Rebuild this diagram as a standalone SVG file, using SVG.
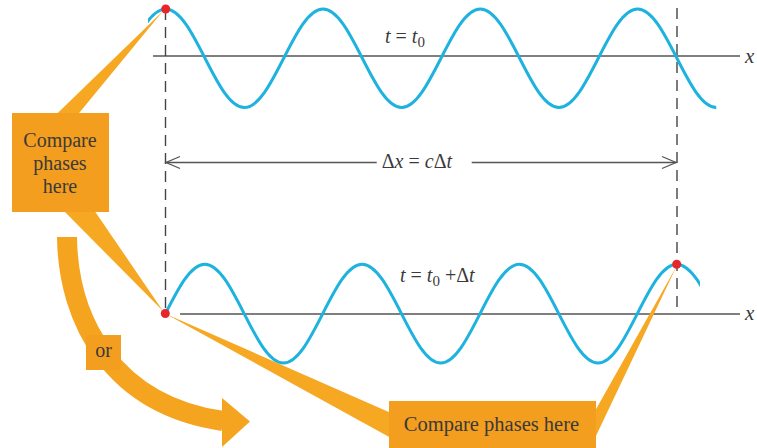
<svg xmlns="http://www.w3.org/2000/svg" width="757" height="448" viewBox="0 0 757 448">
<style>
.wave{fill:none;stroke:#1eb2de;stroke-width:3}
.axis{fill:none;stroke:#555;stroke-width:1.5}
.dash{fill:none;stroke:#444;stroke-width:1.4;stroke-dasharray:11 7}
.dim{fill:none;stroke:#555;stroke-width:1.3}
.dot{fill:#e8262a}
.box{fill:#f39e1f}
.ptr{fill:#f6a823}
.lbl{font-family:"Liberation Serif","Times New Roman",serif;fill:#3a3a3a}
.it{font-style:italic}
</style>
<defs>
<clipPath id="clipTop"><rect x="148" y="0" width="572" height="130"/></clipPath>
<clipPath id="clipBot"><rect x="165.5" y="240" width="534.5" height="140"/></clipPath>
</defs>
<rect width="757" height="448" fill="#fff"/>

<g id="axes">
<line class="axis" x1="153" y1="56" x2="740" y2="56"/>
<line class="axis" x1="180" y1="314" x2="740" y2="314"/>
<text class="lbl it" x="745" y="63" font-size="21">x</text>
<text class="lbl it" x="745" y="320" font-size="21">x</text>
</g>

<g id="guides">
<line class="dash" x1="165.5" y1="9" x2="165.5" y2="313"/>
<line class="dash" x1="677" y1="8" x2="677" y2="314"/>
</g>

<g id="wave-top">
<path class="wave" clip-path="url(#clipTop)" d="M87.05,107.5 C115.63,107.5 137.12,9 165.7,9 C194.28,9 215.77,107.5 244.35,107.5 C272.93,107.5 294.42,9 323,9 C351.58,9 373.07,107.5 401.65,107.5 C430.23,107.5 451.72,9 480.3,9 C508.88,9 530.37,107.5 558.95,107.5 C587.53,107.5 609.02,9 637.6,9 C666.18,9 687.67,107.5 716.25,107.5"/>
<text class="lbl" x="385" y="43" font-size="20"><tspan class="it">t</tspan> = <tspan class="it">t</tspan><tspan font-size="15" dy="4">0</tspan></text>
</g>

<g id="wave-bottom">
<path class="wave" clip-path="url(#clipBot)" d="M126.15,363 C154.73,363 176.22,264.3 204.8,264.3 C233.38,264.3 254.87,363 283.45,363 C312.03,363 333.52,264.3 362.1,264.3 C390.68,264.3 412.17,363 440.75,363 C469.33,363 490.82,264.3 519.4,264.3 C547.98,264.3 569.47,363 598.05,363 C626.63,363 648.12,264.3 676.7,264.3 C705.28,264.3 726.77,363 755.35,363"/>
<text class="lbl" x="400" y="282" font-size="20"><tspan class="it">t</tspan> = <tspan class="it">t</tspan><tspan font-size="15" dy="4">0</tspan><tspan dy="-4"> +Δ</tspan><tspan class="it">t</tspan></text>
</g>

<g id="dimension">
<line class="dim" x1="165.5" y1="162.5" x2="376.7" y2="162.5"/>
<line class="dim" x1="471.7" y1="162.5" x2="676.5" y2="162.5"/>
<polyline class="dim" points="180,156.5 166,162.5 180,168.5"/>
<polyline class="dim" points="662,156.5 676,162.5 662,168.5"/>
<text class="lbl" x="381.7" y="168" font-size="20">Δ<tspan class="it">x</tspan> = <tspan class="it">c</tspan>Δ<tspan class="it">t</tspan></text>
</g>

<g id="callout-left">
<polygon class="ptr" points="56.7,114 78.3,114 163,11"/>
<polygon class="ptr" points="63,210 94,210 163,311"/>
<rect class="box" x="12" y="113" width="97" height="99"/>
<text class="lbl" x="60" y="147" font-size="20" text-anchor="middle">Compare</text>
<text class="lbl" x="60" y="170" font-size="20" text-anchor="middle">phases</text>
<text class="lbl" x="60" y="193" font-size="20" text-anchor="middle">here</text>
</g>

<g id="callout-bottom">
<polygon class="ptr" points="166,314 391,413 391,438"/>
<polygon class="ptr" points="676.7,266 595,411 595,438"/>
<rect class="box" x="389" y="401" width="207" height="50"/>
<text class="lbl" x="491.5" y="431" font-size="20.5" text-anchor="middle">Compare phases here</text>
</g>

<g id="or-arrow">
<path d="M67,237 C68,320 112,405 223,421" fill="none" stroke="#f5a41f" stroke-width="20"/>
<polygon points="222,398 250,421.5 222,447" fill="#f5a41f"/>
<rect class="box" x="86" y="335" width="35" height="35"/>
<text class="lbl" x="103.5" y="357" font-size="20" text-anchor="middle">or</text>
</g>

<g id="points">
<circle class="dot" cx="165.7" cy="9" r="4.5"/>
<circle class="dot" cx="165.3" cy="313.5" r="4.5"/>
<circle class="dot" cx="676.7" cy="264.3" r="4.5"/>
</g>
</svg>
